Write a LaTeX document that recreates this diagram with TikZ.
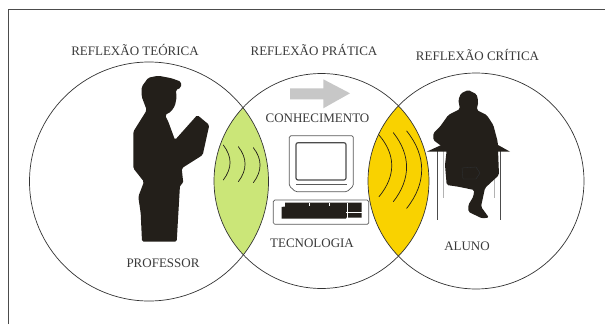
\documentclass[tikz,border=0pt]{standalone}
\usepackage{fontspec}
\setmainfont{Liberation Serif}
\definecolor{ink}{HTML}{231F1A}
\definecolor{lensgreen}{HTML}{CBE678}
\definecolor{lensyellow}{HTML}{F9D200}
\definecolor{labelc}{HTML}{3A3A3A}
\definecolor{faintline}{HTML}{2F3438}
\tikzset{
  ring/.style={circle,draw=black!80,line width=0.7pt,inner sep=0pt,outer sep=0pt},
  lbl/.style={inner sep=0pt,text=labelc,font=\fontsize{13}{15}\selectfont},
  sil/.style={fill=ink,draw=none,rounded corners=1.6pt},
  wave/.style={draw=ink,line width=0.7pt,line cap=round},
  tleg/.style={draw=black!70,line width=1pt},
  tlegthin/.style={draw=black!30,line width=0.5pt},
  hw/.style={draw=black!65,line width=0.7pt,fill=white,rounded corners=1.5pt}
}
\begin{document}
\begin{tikzpicture}[x=1pt,y=-1pt]
\useasboundingbox[fill=white] (0,0) rectangle (605,324);
% frame
\draw[black!70,line width=0.9pt] (8.5,324) -- (8.5,9.5) -- (605,9.5);
% lenses
\begin{scope}
\clip (149,181.5) circle[radius=119.5];
\fill[lensgreen] (321.5,181) circle[radius=107.5];
\end{scope}
\begin{scope}
\clip (321.5,181) circle[radius=107.5];
\fill[lensyellow] (476,181) circle[radius=108];
\end{scope}
% rings
\node[ring,minimum size=239pt] (c1) at (149,181.5) {};
\node[ring,minimum size=215pt] (c2) at (321.5,181) {};
\node[ring,minimum size=216pt] (c3) at (476,181) {};
% waves
\draw[wave] (223.3,145) .. controls (232.3,157) and (232.3,168) .. (223.3,180);
\draw[wave] (238.3,146.7) .. controls (247.3,158) and (247.3,170) .. (238.3,181.7);
\draw[wave] (253.3,147.7) .. controls (262.3,159) and (262.3,171) .. (253.3,182.7);
\draw[wave] (379,135) .. controls (396,155) and (396,176) .. (379,196.7);
\draw[wave] (393.3,132.7) .. controls (411,155) and (411,179) .. (393.3,201.7);
\draw[wave] (406.7,131) .. controls (426.7,156) and (426.7,183) .. (406.7,208.3);
% professor
\fill[sil] (146.7,110) -- (141.7,96.7) -- (141.7,86.7) -- (148.3,77.7) -- (158.3,75.7)
  -- (171.7,78.3) -- (181,81.7) -- (181,87.7) -- (175.7,90) -- (176.7,96.7) -- (175,105.7)
  -- (171,111.7) -- (165,115) -- (168.3,121.7) -- (175,140) -- (197.3,115) -- (209.3,125)
  -- (202.7,155) -- (181.7,168.3) -- (183.3,183.3) -- (180,185) -- (176.7,241.7)
  -- (142,241.7) -- (140.7,213.3) -- (138.3,196.7) -- (144,181.7) -- (133.3,168.3)
  -- (133.3,131.7) -- (145,113) -- cycle;
% arrow
\fill[black!22] (290,88.3) -- (323.3,88.3) -- (323.3,79.3) -- (350,93.3) -- (323.3,108.3)
  -- (323.3,99.3) -- (290,99.3) -- cycle;
% monitor
\draw[hw] (289.3,135.7) -- (353.3,135.7) -- (353.3,186) -- (347,191.7) -- (295.5,191.7)
  -- (289.3,186) -- cycle;
\draw[black!70,line width=1.2pt,rounded corners=2pt] (296,142.7) rectangle (346,180);
\draw[black!65,line width=0.9pt] (296,184) -- (346.5,184);
% keyboard
\draw[hw] (273.3,200) rectangle (368.7,224.3);
\fill[ink] (285,202.5) -- (361.5,202.5) -- (361.5,217.5) -- (346,217.5) -- (346,218.5)
  -- (281.5,218.5) -- (281.5,207) -- (285,206.5) -- cycle;
\draw[white,line width=0.35pt] (309,203) -- (309,206) (329,203) -- (329,206) (347.5,203) -- (347.5,217.5);
\draw[white,line width=0.5pt] (346,212) -- (361.5,212);
% student table
\draw[tleg] (437.7,150) -- (437.7,220);
\draw[tleg] (500,150) -- (500,220);
\draw[tlegthin] (443.3,150) -- (443.3,198);
\draw[tlegthin] (494.3,150) -- (494.3,198);
% student
\fill[sil] (468.3,90) -- (476.7,94.3) -- (478.3,101.7) -- (476.7,110) -- (486.7,115)
  -- (493.3,125) -- (497.7,141.7) -- (499,175) -- (485,188) -- (481,206.7) -- (489,217.7)
  -- (481.7,218.3) -- (468.3,211.7) -- (468.3,205) -- (473.3,196.7) -- (474.3,190)
  -- (458.3,186.7) -- (446.7,185) -- (445,165) -- (446.7,150) -- (433.3,140) -- (433.3,133.3)
  -- (440,126.7) -- (448.3,115) -- (460,109) -- (458.3,100) -- (461,93.3) -- cycle;
\fill[ink] (426.7,151.7) -- (445,143.3) -- (495,143.3) -- (510,151.7) -- cycle;
\draw[faintline,line width=0.3pt] (462,168) -- (476,167) -- (480,173) -- (476,179) -- (463,179) -- cycle;
% labels
\node[lbl] (t1) at (135,50) {REFLEXÃO TEÓRICA};
\node[lbl] (t2) at (314,50) {REFLEXÃO PRÁTICA};
\node[lbl] (t3) at (477.5,54.5) {REFLEXÃO CRÍTICA};
\node[lbl] (k) at (317.5,118) {CONHECIMENTO};
\node[lbl] (tc) at (312,243) {TECNOLOGIA};
\node[lbl] (p) at (163,263.5) {PROFESSOR};
\node[lbl] (a) at (467,246) {ALUNO};
\end{tikzpicture}
\end{document}
